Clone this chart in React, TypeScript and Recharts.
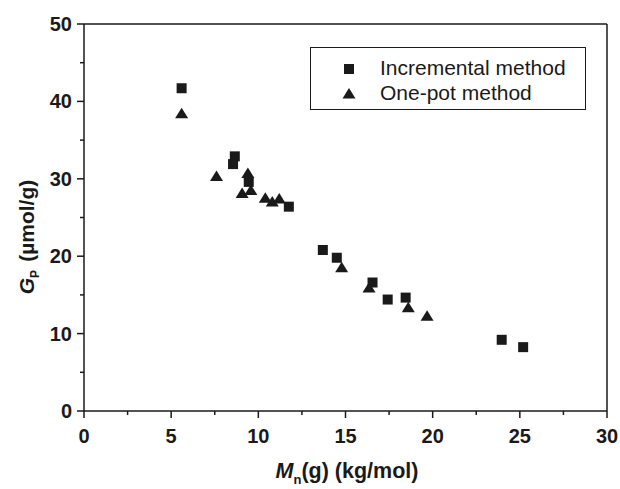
import React from 'react';
import { ScatterChart, Scatter, XAxis, YAxis, ReferenceLine, Legend } from 'recharts';

// Incremental method (squares)
const incrementalMn = [5.6, 8.65, 8.55, 9.45, 11.75, 13.7, 14.5, 16.55, 17.42, 18.45, 23.96, 25.19];
const incrementalGp = [41.7, 32.9, 31.9, 29.6, 26.4, 20.8, 19.8, 16.6, 14.4, 14.65, 9.2, 8.25];

// One-pot method (triangles)
const onePotMn = [5.6, 7.6, 9.4, 9.07, 9.57, 10.4, 10.8, 11.2, 14.78, 16.35, 18.6, 19.68];
const onePotGp = [38.4, 30.3, 30.7, 28.1, 28.5, 27.5, 27.0, 27.4, 18.5, 15.9, 13.35, 12.25];

const xTicks = [0, 2.5, 5, 7.5, 10, 12.5, 15, 17.5, 20, 22.5, 25, 27.5, 30];
const yTicks = [0, 5, 10, 15, 20, 25, 30, 35, 40, 45, 50];

const incremental = incrementalMn.map((x, i) => ({ x, y: incrementalGp[i] }));
const onePot = onePotMn.map((x, i) => ({ x, y: onePotGp[i] }));

const FONT = '"Liberation Sans", Arial, sans-serif';
const INK = '#1a1a1a';

const SquareDot = (props: any) => {
  const { cx, cy } = props;
  return <rect x={cx - 5} y={cy - 5} width={10} height={10} fill={INK} />;
};

const TriangleDot = (props: any) => {
  const { cx, cy } = props;
  return <polygon points={`${cx},${cy - 6} ${cx + 6.5},${cy + 4.5} ${cx - 6.5},${cy + 4.5}`} fill={INK} />;
};

const XTick = (props: any) => {
  const { x, y, payload } = props;
  const major = payload.value % 5 === 0;
  return (
    <g>
      <line x1={x} y1={y} x2={x} y2={y + (major ? 7 : 4)} stroke={INK} strokeWidth={1.5} />
      {major && (
        <text x={x} y={y + 25} textAnchor="middle" dominantBaseline="central" fontFamily={FONT} fontSize={20} fontWeight="bold" fill={INK}>
          {payload.value}
        </text>
      )}
    </g>
  );
};

const YTick = (props: any) => {
  const { x, y, payload } = props;
  const major = payload.value % 10 === 0;
  return (
    <g>
      <line x1={x - (major ? 7 : 4)} y1={y} x2={x} y2={y} stroke={INK} strokeWidth={1.5} />
      {major && (
        <text x={x - 12} y={y} textAnchor="end" dominantBaseline="central" fontFamily={FONT} fontSize={20} fontWeight="bold" fill={INK}>
          {payload.value}
        </text>
      )}
    </g>
  );
};

const XLabel = () => (
  <text x={347} y={478} textAnchor="middle" fontFamily={FONT} fontSize={21.5} fontWeight="bold" fill={INK}>
    <tspan fontStyle="italic">M</tspan>
    <tspan fontSize={13} dy={6}>n</tspan>
    <tspan dy={-6}>(g) (kg/mol)</tspan>
  </text>
);

const YLabel = () => (
  <text transform="translate(34,237) rotate(-90)" textAnchor="middle" fontFamily={FONT} fontSize={21} fontWeight="bold" fill={INK}>
    <tspan fontStyle="italic">G</tspan>
    <tspan fontSize={12} dy={5}>P</tspan>
    <tspan dy={-5} dx={8}>{'(\u00b5mol/g)'}</tspan>
  </text>
);

const LegendBox = () => (
  <div
    style={{
      width: 276,
      height: 63,
      border: `1.5px solid ${INK}`,
      boxSizing: 'border-box',
      position: 'relative',
      fontFamily: FONT,
      fontSize: 21,
      color: INK,
      background: '#fff',
    }}
  >
    <svg width={276} height={63} style={{ position: 'absolute', left: 0, top: 0 }}>
      <rect x={33} y={16} width={10} height={10} fill={INK} />
      <polygon points="38,40 44.5,50.5 31.5,50.5" fill={INK} />
    </svg>
    <div style={{ position: 'absolute', left: 69, top: 8, lineHeight: '24px', whiteSpace: 'nowrap' }}>Incremental method</div>
    <div style={{ position: 'absolute', left: 69, top: 33, lineHeight: '24px', whiteSpace: 'nowrap' }}>One-pot method</div>
  </div>
);

export default function App() {
  return (
    <div style={{ position: 'absolute', left: 0, top: 0, width: 620, height: 489, background: '#fff' }}>
      <ScatterChart width={620} height={489} margin={{ top: 24, right: 13, left: 0, bottom: 0 }}>
        <XAxis
          type="number"
          dataKey="x"
          domain={[0, 30]}
          ticks={xTicks}
          interval={0}
          height={78}
          tickSize={0}
          tickMargin={0}
          tickLine={false}
          tick={<XTick />}
          axisLine={{ stroke: INK, strokeWidth: 1.5 }}
          label={{ content: () => <XLabel /> }}
        />
        <YAxis
          type="number"
          dataKey="y"
          domain={[0, 50]}
          ticks={yTicks}
          interval={0}
          width={84}
          tickSize={0}
          tickMargin={0}
          tickLine={false}
          tick={<YTick />}
          axisLine={{ stroke: INK, strokeWidth: 1.5 }}
          label={{ content: () => <YLabel /> }}
        />
        <ReferenceLine y={50} stroke={INK} strokeWidth={1.5} />
        <ReferenceLine x={30} stroke={INK} strokeWidth={1.5} />
        <Legend
          layout="vertical"
          align="center"
          verticalAlign="middle"
          wrapperStyle={{ left: 310, top: 47, width: 276, height: 63 }}
          content={() => <LegendBox />}
        />
        <Scatter name="Incremental method" data={incremental} shape={<SquareDot />} isAnimationActive={false} />
        <Scatter name="One-pot method" data={onePot} shape={<TriangleDot />} isAnimationActive={false} />
      </ScatterChart>
    </div>
  );
}
